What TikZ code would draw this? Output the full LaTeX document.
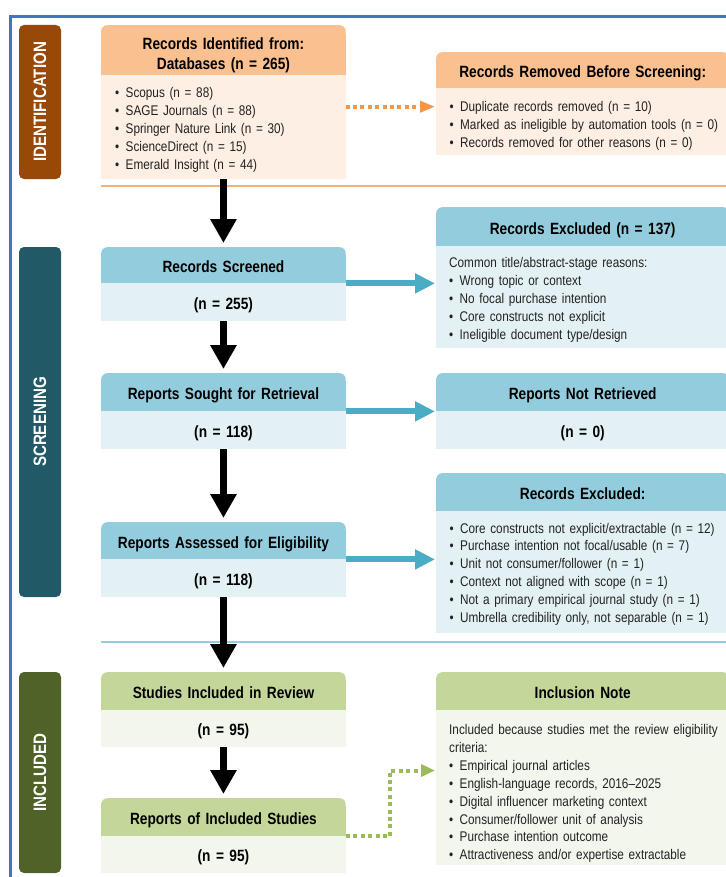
\documentclass[tikz,border=0pt]{standalone}
\usepackage{fontspec}
\setmainfont{Liberation Sans}[FakeStretch=0.84]
\usetikzlibrary{arrows.meta,backgrounds,calc}
\definecolor{frameblue}{HTML}{4472C4}
\definecolor{idcol}{HTML}{984807}
\definecolor{scrcol}{HTML}{215967}
\definecolor{inccol}{HTML}{4F6228}
\definecolor{orh}{HTML}{FAC090}
\definecolor{orb}{HTML}{FDEFE3}
\definecolor{orline}{HTML}{F79646}
\definecolor{teh}{HTML}{93CDDD}
\definecolor{teb}{HTML}{E3F1F5}
\definecolor{tearrow}{HTML}{4BACC6}
\definecolor{grh}{HTML}{C4D79B}
\definecolor{grb}{HTML}{F3F6ED}
\definecolor{grline}{HTML}{9BBB59}
\definecolor{txt}{HTML}{222222}
\newcommand\bl{\makebox[10.5bp][l]{•}}
\newcommand\li[1]{\mbox{\bl #1}}
\newcommand\hpatch[2]{\fill[#2] ([yshift=-8bp]#1.north west) rectangle (#1.south east);}
\tikzset{
  hdr/.style={anchor=north west, inner sep=0pt, align=center, rounded corners=6bp,
    font=\fontsize{16.3bp}{20bp}\selectfont\bfseries, text=black,
    text height=14.9bp, text depth=0bp},
  lhdr/.style={hdr, minimum width=244.5bp, text width=244.5bp},
  rhdr/.style={hdr, minimum width=293bp, text width=293bp},
  bdy/.style={anchor=north west, inner sep=0pt, text=black,
    font=\fontsize{16.3bp}{20bp}\selectfont\bfseries, align=center,
    text height=13.7bp, text depth=0bp},
  lnum/.style={bdy, minimum width=244.5bp, text width=244.5bp},
  rnum/.style={bdy, minimum width=293bp, text width=293bp},
  lbox/.style={anchor=north west, inner sep=0pt, minimum width=244.5bp},
  rbox/.style={anchor=north west, inner sep=0pt, minimum width=293bp},
  listtext/.style={anchor=base west, inner sep=0pt, text width=275bp, align=left,
    text=txt, font=\fontsize{14bp}{17.9bp}\selectfont},
  phase/.style={rotate=90, inner sep=0pt, rounded corners=5bp, text=white,
    minimum height=42bp, font=\fontsize{18bp}{20bp}\selectfont\bfseries},
  flow/.style={line width=7.5bp, black, shorten >=4bp,
    -{Triangle[width=25bp,length=24bp]}},
  side/.style={line width=6bp, tearrow, shorten >=1bp,
    -{Triangle[width=19bp,length=20bp]}},
  dotarrow/.style={line width=4bp, dash pattern=on 4bp off 3.4bp, shorten >=1bp},
}
\begin{document}
\begin{tikzpicture}[x=1bp,y=-1bp]
\useasboundingbox (0,0) rectangle (726,877);
\clip (0,0) rectangle (726,877);
\draw[line width=3bp, frameblue] (10.5,16.5) rectangle (780,920);

% phase labels
\node[phase, fill=idcol, minimum width=154bp] (pid) at (40,102) {IDENTIFICATION};
\node[phase, fill=scrcol, minimum width=350bp] (pscr) at (40,422) {SCREENING};
\node[phase, fill=inccol, minimum width=201bp] (pinc) at (40,772.5) {INCLUDED};

% separators
\draw[line width=1.3bp, orline!75] (101,186) -- (740,186);
\draw[line width=2.5bp, teh] (101,642) -- (740,642);

% identification
\node[lhdr, fill=orh, minimum height=50bp, text height=10bp, text depth=12.3bp] (idh) at (101,25) {Records Identified from:\\Databases (n = 265)};
\node[lbox, fill=orb, minimum height=104bp] (idb) at (101,75) {};
\node[listtext] (idbt) at ($(idb.north west)+(14,22.4)$) {\li{Scopus (n = 88)}\\\li{SAGE Journals (n = 88)}\\\li{Springer Nature Link (n = 30)}\\\li{ScienceDirect (n = 15)}\\\li{Emerald Insight (n = 44)}};

\node[rhdr, fill=orh, minimum height=36bp] (rmh) at (436,52) {Records Removed Before Screening:};
\node[rbox, fill=orb, minimum height=67bp] (rmb) at (436,88) {};
\node[listtext] (rmbt) at ($(rmb.north west)+(13.5,23.4)$) {\li{Duplicate records removed (n = 10)}\\\li{Marked as ineligible by automation tools (n = 0)}\\\li{Records removed for other reasons (n = 0)}};

% screening
\node[lhdr, fill=teh, minimum height=36bp] (rsh) at (101,247) {Records Screened};
\node[lnum, fill=teb, minimum height=38bp] (rsb) at (101,283) {(n = 255)};

\node[rhdr, fill=teh, minimum height=39bp] (e1h) at (436,207) {Records Excluded (n = 137)};
\node[rbox, fill=teb, minimum height=102bp] (e1b) at (436,246) {};
\node[listtext] (e1bt) at ($(e1b.north west)+(13,21.8)$) {\mbox{Common title/abstract-stage reasons:}\\\li{Wrong topic or context}\\\li{No focal purchase intention}\\\li{Core constructs not explicit}\\\li{Ineligible document type/design}};

\node[lhdr, fill=teh, minimum height=38bp] (sgh) at (101,373) {Reports Sought for Retrieval};
\node[lnum, fill=teb, minimum height=38bp] (sgb) at (101,411) {(n = 118)};

\node[rhdr, fill=teh, minimum height=38bp] (nrh) at (436,373) {Reports Not Retrieved};
\node[rnum, fill=teb, minimum height=38bp] (nrb) at (436,411) {(n = 0)};

\node[lhdr, fill=teh, minimum height=37bp] (ash) at (101,522) {Reports Assessed for Eligibility};
\node[lnum, fill=teb, minimum height=38bp] (asb) at (101,559) {(n = 118)};

\node[rhdr, fill=teh, minimum height=38bp] (e2h) at (436,473) {Records Excluded:};
\node[rbox, fill=teb, minimum height=122bp] (e2b) at (436,511) {};
\node[listtext] (e2bt) at ($(e2b.north west)+(13.5,22)$) {\li{Core constructs not explicit/extractable (n = 12)}\\\li{Purchase intention not focal/usable (n = 7)}\\\li{Unit not consumer/follower (n = 1)}\\\li{Context not aligned with scope (n = 1)}\\\li{Not a primary empirical journal study (n = 1)}\\\li{Umbrella credibility only, not separable (n = 1)}};

% included
\node[lhdr, fill=grh, minimum height=38bp] (sih) at (101,672) {Studies Included in Review};
\node[lnum, fill=grb, minimum height=37bp] (sib) at (101,710) {(n = 95)};

\node[lhdr, fill=grh, minimum height=38bp] (rih) at (101,798) {Reports of Included Studies};
\node[lnum, fill=grb, minimum height=37bp] (rib) at (101,836) {(n = 95)};

\node[rhdr, fill=grh, minimum height=38bp] (inh) at (436,672) {Inclusion Note};
\node[rbox, fill=grb, minimum height=155bp] (inb) at (436,710) {};
\node[listtext] (inbt) at ($(inb.north west)+(13,24.5)$) {\mbox{Included because studies met the review eligibility}\\\mbox{criteria:}\\\li{Empirical journal articles}\\\li{English-language records, 2016--2025}\\\li{Digital influencer marketing context}\\\li{Consumer/follower unit of analysis}\\\li{Purchase intention outcome}\\\li{Attractiveness and/or expertise extractable}};

% square off header bottoms
\begin{scope}[on background layer]
\hpatch{idh}{orh}\hpatch{rmh}{orh}
\hpatch{rsh}{teh}\hpatch{e1h}{teh}\hpatch{sgh}{teh}\hpatch{nrh}{teh}\hpatch{ash}{teh}\hpatch{e2h}{teh}
\hpatch{sih}{grh}\hpatch{rih}{grh}\hpatch{inh}{grh}
\end{scope}

% main flow
\draw[flow] (idb.south) -- (rsh.north);
\draw[flow] (rsb.south) -- (sgh.north);
\draw[flow] (sgb.south) -- (ash.north);
\draw[flow] (asb.south) -- (sih.north);
\draw[flow] (sib.south) -- (rih.north);

% side arrows
\draw[side] (rsh.south east) -- (rsh.south east -| e1b.west);
\draw[side] (sgh.south east) -- (sgh.south east -| nrb.west);
\draw[side] (ash.south east) -- (ash.south east -| e2b.west);

% dotted connectors
\coordinate (o1) at (345.5,106.7);
\draw[dotarrow, orline, -{Triangle[width=11bp,length=15bp]}] (o1) -- (o1 -| rmb.west);
\coordinate (g1) at (390,770.5);
\draw[dotarrow, grline, -{Triangle[width=12bp,length=14bp]}] (rib.north east) -| (g1) -- (g1 -| inb.west);
\end{tikzpicture}
\end{document}
